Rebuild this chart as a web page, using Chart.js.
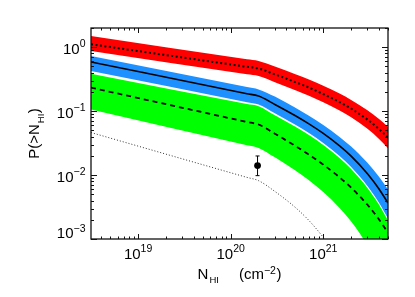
<!DOCTYPE html>
<html><head><meta charset="utf-8">
<script src="https://cdn.jsdelivr.net/npm/chart.js@4/dist/chart.umd.min.js"></script>
<style>html,body{margin:0;padding:0;background:#fff}#wrap{width:415px;height:297px;position:relative}</style>
</head><body><div id="wrap"><canvas id="c"></canvas></div>
<script>
// ---- data ----
const nHI       = [3.1e18, 1.5e20, 2e20, 3e20, 5e20, 7e20, 1e21, 1.5e21, 2e21, 3e21, 4e21, 5e21];
const redHigh   = [1.50, 0.648, 0.61, 0.5014, 0.3791, 0.3128, 0.2493, 0.1882, 0.1497, 0.1031, 0.07512, 0.05671];
const redMid    = [1.114, 0.494, 0.465, 0.3768, 0.2843, 0.2338, 0.1855, 0.1389, 0.1094, 0.0738, 0.05254, 0.03865];
const redLow    = [0.875, 0.377, 0.354, 0.2832, 0.2131, 0.1748, 0.1381, 0.1026, 0.0800, 0.05284, 0.03675, 0.02634];
const blueHigh  = [0.730, 0.238, 0.219, 0.1689, 0.1129, 0.0848, 0.0608, 0.03958, 0.02795, 0.01553, 0.00943, 0.00597];
const blueMid   = [0.5876, 0.1873, 0.172, 0.1274, 0.0847, 0.0632, 0.0448, 0.02862, 0.0198, 0.01052, 0.00607, 0.00365];
const blueLow   = [0.4245, 0.1384, 0.1274, 0.0927, 0.0612, 0.04534, 0.03178, 0.01987, 0.01343, 0.00677, 0.0037, 0.002093];
const greenHigh = [0.3865, 0.1297, 0.1198, 0.0862, 0.0569, 0.04219, 0.02957, 0.01849, 0.01249, 0.0063, 0.00344, 0.001948];
const greenMid  = [0.2331, 0.0677, 0.0618, 0.04437, 0.0285, 0.02087, 0.01457, 0.0092, 0.00635, 0.00343, 0.00202, 0.00125];
const greenLow  = [0.1064, 0.02925, 0.02664, 0.01894, 0.01179, 0.0083, 0.00543, 0.00306, 0.00187, 0.000788, 0.00036, 0.000172];
const lowX      = [3.1e18, 1.5e20, 2e20, 3e20, 5e20, 7e20, 1e21, 1.2e21];
const lowY      = [0.0463, 0.0092, 0.00818, 0.00555, 0.00311, 0.001947, 0.00106, 0.000733];
const obsX  = [1.95e20];
const obsY  = [0.0141];
const obsLo = [0.0098];
const obsHi = [0.0199];
const xTickVals = [1e19, 1e20, 1e21];
const xTickExp  = ['19', '20', '21'];
const yTickVals = [1, 0.1, 0.01, 0.001];
const yTickExp  = ['0', '−1', '−2', '−3'];
const X_RANGE = [3.1e18, 5e21];
const Y_RANGE = [1e-3, 2.0];

const FONT = '"Liberation Sans", Arial, Helvetica, sans-serif';
const RED = '#ff0000', BLUE = '#1e90ff', GREEN = '#00ff00';
function pts(ys, xs) { xs = xs || nHI; return xs.map((x, i) => ({x: x, y: ys[i]})); }

function lineDs(ys, opts, xs) {
  return Object.assign({data: pts(ys, xs), borderColor: '#000', borderWidth: 1.5, pointRadius: 0, fill: false, clip: 0, cubicInterpolationMode: 'monotone'}, opts);
}
function bandDs(ys, color, fill) {
  return {data: pts(ys), borderWidth: 0, borderColor: 'rgba(0,0,0,0)', backgroundColor: color, pointRadius: 0, fill: fill, clip: 0, cubicInterpolationMode: 'monotone'};
}

const axesPlugin = {
  id: 'idlAxes',
  beforeDatasetsDraw(chart) {
    const {ctx, scales: {x, y}} = chart;
    ctx.save();
    ctx.strokeStyle = '#000'; ctx.lineWidth = 1;
    obsX.forEach((v, i) => {
      const px = x.getPixelForValue(v);
      const p1 = y.getPixelForValue(obsLo[i]), p2 = y.getPixelForValue(obsHi[i]);
      ctx.beginPath();
      ctx.moveTo(px, p1); ctx.lineTo(px, p2);
      ctx.moveTo(px - 2, p1); ctx.lineTo(px + 2, p1);
      ctx.moveTo(px - 2, p2); ctx.lineTo(px + 2, p2);
      ctx.stroke();
    });
    ctx.restore();
  },
  afterDraw(chart) {
    const {ctx, chartArea: a, scales: {x, y}} = chart;
    ctx.save();
    ctx.strokeStyle = '#111'; ctx.lineWidth = 1.3;
    ctx.strokeRect(a.left, a.top, a.right - a.left, a.bottom - a.top);
    ctx.lineWidth = 1;
    for (let e = -3; e <= 0; e++) {
      for (let k = 1; k <= 9; k++) {
        const v = k * Math.pow(10, e);
        if (v < Y_RANGE[0] * 0.999 || v > Y_RANGE[1]) continue;
        const py = Math.round(y.getPixelForValue(v)) + 0.5;
        const len = k === 1 ? 6 : 3;
        ctx.beginPath();
        ctx.moveTo(a.left, py); ctx.lineTo(a.left + len, py);
        ctx.moveTo(a.right, py); ctx.lineTo(a.right - len, py);
        ctx.stroke();
      }
    }
    for (let e = 18; e <= 21; e++) {
      for (let k = 1; k <= 9; k++) {
        const v = k * Math.pow(10, e);
        if (v < X_RANGE[0] || v > X_RANGE[1]) continue;
        const px = Math.round(x.getPixelForValue(v)) + 0.5;
        const len = k === 1 ? 5 : 2.5;
        ctx.beginPath();
        ctx.moveTo(px, a.bottom); ctx.lineTo(px, a.bottom - len);
        ctx.moveTo(px, a.top); ctx.lineTo(px, a.top + len);
        ctx.stroke();
      }
    }
    ctx.fillStyle = '#000';
    ctx.textBaseline = 'alphabetic';
    const baseF = '15px ' + FONT, expF = '10.5px ' + FONT;
    yTickVals.forEach((v, i) => {
      const py = y.getPixelForValue(v);
      const bl = Math.min(py + 6.5, a.bottom - 1);
      ctx.font = expF; const we = ctx.measureText(yTickExp[i]).width;
      const right = a.left - 5.5;
      ctx.textAlign = 'left';
      ctx.fillText(yTickExp[i], right - we, bl - 6.5);
      ctx.font = baseF; const wb = ctx.measureText('10').width;
      ctx.fillText('10', right - we - wb, bl);
    });
    xTickVals.forEach((v, i) => {
      const px = x.getPixelForValue(v);
      ctx.font = baseF; const wb = ctx.measureText('10').width;
      ctx.font = expF; const we = ctx.measureText(xTickExp[i]).width;
      const start = px - (wb + we) / 2;
      ctx.textAlign = 'left';
      ctx.font = baseF; ctx.fillText('10', start, 258.5);
      ctx.font = expF; ctx.fillText(xTickExp[i], start + wb, 251.5);
    });
    const xt = [
      {t: 'N', f: '15px ', dy: 0, gap: 0},
      {t: 'HI', f: '9.5px ', dy: 4, gap: 1},
      {t: '(cm', f: '15px ', dy: 0, gap: 20},
      {t: '−2', f: '10.5px ', dy: -5, gap: 0},
      {t: ')', f: '15px ', dy: 0, gap: 0.5}
    ];
    function layout(parts) {
      let w = 0;
      parts.forEach(p => { ctx.font = p.f + FONT; p.x = w + p.gap; p.w = ctx.measureText(p.t).width; w = p.x + p.w; });
      return w;
    }
    let W = layout(xt);
    let sx = (a.left + a.right) / 2 - W / 2;
    xt.forEach(p => { ctx.font = p.f + FONT; ctx.fillText(p.t, sx + p.x, 279.3 + p.dy); });
    const yt = [
      {t: 'P(>N', f: '15px ', dy: 0, gap: 0},
      {t: 'HI', f: '9.5px ', dy: 4.5, gap: 1},
      {t: ')', f: '15px ', dy: 0, gap: 0.5}
    ];
    W = layout(yt);
    ctx.save();
    ctx.translate(39, (a.top + a.bottom) / 2);
    ctx.rotate(-Math.PI / 2);
    yt.forEach(p => { ctx.font = p.f + FONT; ctx.fillText(p.t, -W / 2 + p.x, p.dy); });
    ctx.restore();
    ctx.restore();
  }
};

new Chart(document.getElementById('c'), {
  type: 'line',
  data: {
    datasets: [
      lineDs(lowY, {borderColor: '#333', borderWidth: 1, borderDash: [1, 2]}, lowX),
      {data: pts(obsY, obsX), showLine: false, pointRadius: 3.4, pointBackgroundColor: '#000', pointBorderColor: '#000', pointBorderWidth: 0, clip: 0},
      lineDs(redMid, {borderWidth: 2, borderDash: [2, 2.5]}),
      lineDs(blueMid, {borderWidth: 1.6}),
      lineDs(greenMid, {borderWidth: 1.8, borderDash: [5, 4]}),
      bandDs(redHigh, RED, '+1'),
      bandDs(redLow, RED, false),
      bandDs(blueHigh, BLUE, '+1'),
      bandDs(blueLow, BLUE, false),
      bandDs(greenHigh, GREEN, '+1'),
      bandDs(greenLow, GREEN, false)
    ]
  },
  options: {
    responsive: true, maintainAspectRatio: false, animation: false, devicePixelRatio: 1,
    layout: {padding: {left: 91, top: 28, right: 27, bottom: 58}},
    scales: {
      x: {type: 'logarithmic', min: X_RANGE[0], max: X_RANGE[1], display: false},
      y: {type: 'logarithmic', min: Y_RANGE[0], max: Y_RANGE[1], display: false}
    },
    plugins: {legend: {display: false}, tooltip: {enabled: false}},
    elements: {line: {capBezierPoints: false}}
  },
  plugins: [axesPlugin]
});
</script></body></html>
